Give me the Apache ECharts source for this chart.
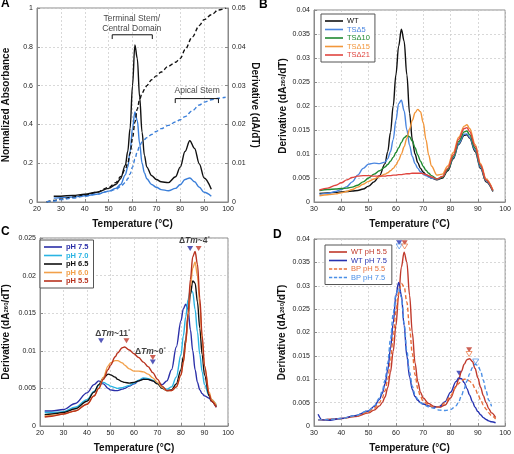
<!DOCTYPE html>
<html><head><meta charset="utf-8">
<script src="https://cdn.jsdelivr.net/npm/echarts@6/dist/echarts.min.js"></script>
<style>html,body{margin:0;padding:0;background:#fff}#c{width:514px;height:454px}</style>
</head><body><div id="c"></div>
<script>
// ---------- Panel A ----------
const aDerivT = [27,30,35,40,45,50,53,55,57,58,59,60,61,62,63,64,65,66,68,70,72,75,78,80,82,84,86,88,90,93];
const aBlackDeriv = [0.0015,0.0015,0.0017,0.0020,0.0025,0.0035,0.0045,0.0060,0.0095,0.0130,0.0190,0.0300,0.0405,0.0370,0.0270,0.0180,0.0120,0.0090,0.0068,0.0058,0.0052,0.0050,0.0065,0.0090,0.0130,0.0158,0.0138,0.0098,0.0062,0.0033];
const aBlueDeriv = [0.0010,0.0011,0.0013,0.0016,0.0020,0.0028,0.0035,0.0045,0.0070,0.0090,0.0130,0.0190,0.0232,0.0210,0.0150,0.0100,0.0075,0.0060,0.0045,0.0038,0.0032,0.0029,0.0035,0.0045,0.0058,0.0062,0.0052,0.0038,0.0025,0.0015];
const aAbsT = [24,27,30,35,40,45,50,53,55,57,58,59,60,61,62,63,64,65,66,68,70,72,75,78,80,82,85,88,90,93,96,99];
const aBlackAbs = [0,0.008,0.015,0.025,0.035,0.050,0.075,0.100,0.130,0.170,0.200,0.250,0.330,0.410,0.480,0.530,0.560,0.580,0.600,0.630,0.650,0.670,0.700,0.720,0.740,0.785,0.850,0.910,0.940,0.965,0.990,1.000];
const aBlueAbs = [0,0.005,0.012,0.020,0.030,0.040,0.055,0.065,0.080,0.100,0.120,0.145,0.180,0.220,0.260,0.290,0.310,0.322,0.332,0.348,0.364,0.378,0.395,0.412,0.424,0.440,0.470,0.500,0.515,0.527,0.535,0.540];
const aBracketTerminal = [[51.5,0.84],[51.5,0.862],[68.3,0.862],[68.3,0.84]];
const aBracketApical = [[77.9,0.51],[77.9,0.533],[96.0,0.533],[96.0,0.51]];

// ---------- Panel B ----------
const bT = [32,35,38,40,42,44,46,48,50,52,54,56,57,58,59,60,61,62,63,64,65,66,67,68,69,70,71,72,73,75,77,79,81,83,85,86,87,89,91,93,95.5];
const bWT = [0.0018,0.0019,0.0020,0.0021,0.0022,0.0023,0.0024,0.0027,0.0033,0.0042,0.0055,0.0080,0.0105,0.0145,0.0200,0.0265,0.0325,0.0360,0.0335,0.0265,0.0185,0.0130,0.0100,0.0082,0.0070,0.0062,0.0057,0.0053,0.0050,0.0046,0.0050,0.0065,0.0090,0.0120,0.0139,0.0140,0.0133,0.0105,0.0070,0.0042,0.0022];
const bTS5 = [0.0016,0.0018,0.0022,0.0026,0.0032,0.0042,0.0056,0.0070,0.0079,0.0081,0.0080,0.0083,0.0090,0.0105,0.0130,0.0170,0.0205,0.0212,0.0190,0.0150,0.0118,0.0095,0.0080,0.0070,0.0063,0.0058,0.0055,0.0052,0.0050,0.0047,0.0052,0.0068,0.0092,0.0122,0.0141,0.0142,0.0135,0.0108,0.0072,0.0044,0.0023];
const bTS10 = [0.0024,0.0026,0.0027,0.0028,0.0029,0.0031,0.0035,0.0042,0.0050,0.0058,0.0065,0.0073,0.0078,0.0085,0.0093,0.0103,0.0113,0.0124,0.0134,0.0138,0.0136,0.0127,0.0113,0.0098,0.0085,0.0074,0.0066,0.0060,0.0055,0.0048,0.0052,0.0068,0.0094,0.0126,0.0146,0.0148,0.0140,0.0112,0.0075,0.0046,0.0024];
const bTS15 = [0.0013,0.0015,0.0017,0.0019,0.0022,0.0026,0.0031,0.0037,0.0043,0.0048,0.0053,0.0058,0.0061,0.0065,0.0070,0.0077,0.0087,0.0100,0.0115,0.0133,0.0152,0.0170,0.0186,0.0193,0.0188,0.0165,0.0130,0.0098,0.0075,0.0056,0.0058,0.0075,0.0103,0.0135,0.0158,0.0161,0.0153,0.0120,0.0080,0.0048,0.0025];
const bTS21 = [0.0025,0.0029,0.0035,0.0040,0.0046,0.0051,0.0054,0.0055,0.0055,0.0054,0.0054,0.0054,0.0055,0.0055,0.0056,0.0056,0.0057,0.0057,0.0058,0.0059,0.0059,0.0060,0.0060,0.0060,0.0060,0.0059,0.0057,0.0055,0.0052,0.0048,0.0053,0.0070,0.0098,0.0131,0.0153,0.0155,0.0147,0.0116,0.0077,0.0046,0.0024];

// ---------- Panel C ----------
const cT = [22,25,30,35,40,43,45,47,49,50,52,53,55,56,58,60,62,64,66,68,70,72,74,76,78,80,81,82,83,84,85,86,87,88,89,90,92,93,95];
const cPH75 = [0.0020,0.0020,0.0022,0.0030,0.0044,0.0055,0.0060,0.0056,0.0050,0.0048,0.0047,0.0047,0.0049,0.0050,0.0053,0.0056,0.0060,0.0063,0.0062,0.0060,0.0057,0.0055,0.0060,0.0075,0.0105,0.0140,0.0156,0.0162,0.0155,0.0128,0.0100,0.0075,0.0058,0.0048,0.0043,0.0040,0.0037,0.0033,0.0025];
const cPH70 = [0.0018,0.0018,0.0019,0.0025,0.0035,0.0046,0.0054,0.0058,0.0055,0.0053,0.0051,0.0050,0.0051,0.0052,0.0054,0.0057,0.0061,0.0064,0.0063,0.0061,0.0057,0.0051,0.0049,0.0052,0.0065,0.0095,0.0120,0.0145,0.0168,0.0181,0.0178,0.0155,0.0125,0.0095,0.0072,0.0055,0.0040,0.0035,0.0028];
const cPH65 = [0.0015,0.0016,0.0018,0.0023,0.0033,0.0045,0.0055,0.0064,0.0069,0.0068,0.0065,0.0062,0.0059,0.0058,0.0057,0.0058,0.0060,0.0062,0.0062,0.0060,0.0056,0.0050,0.0047,0.0048,0.0056,0.0075,0.0092,0.0115,0.0145,0.0175,0.0193,0.0190,0.0165,0.0130,0.0095,0.0068,0.0040,0.0033,0.0026];
const cPH60 = [0.0013,0.0014,0.0016,0.0020,0.0029,0.0040,0.0050,0.0065,0.0080,0.0084,0.0087,0.0087,0.0084,0.0081,0.0076,0.0073,0.0073,0.0072,0.0069,0.0064,0.0058,0.0051,0.0047,0.0047,0.0052,0.0068,0.0085,0.0110,0.0145,0.0185,0.0210,0.0218,0.0200,0.0160,0.0115,0.0080,0.0045,0.0035,0.0028];
const cPH55 = [0.0012,0.0013,0.0016,0.0020,0.0029,0.0040,0.0050,0.0062,0.0075,0.0081,0.0092,0.0097,0.0104,0.0105,0.0101,0.0096,0.0091,0.0085,0.0079,0.0071,0.0062,0.0053,0.0047,0.0047,0.0052,0.0068,0.0085,0.0110,0.0150,0.0195,0.0225,0.0232,0.0215,0.0170,0.0120,0.0080,0.0042,0.0033,0.0025];
const cMarkBlue = [[46,0.01135],[68,0.0085],[83.9,0.0236]];
const cMarkRed = [[56.8,0.01135],[68,0.0091],[87.5,0.0236]];
const cNotes = [[51,0.0123,'11'],[67,0.0099,'0'],[85.7,0.0247,'4']];

// ---------- Panel D ----------
const dT = [31.5,33,35,40,45,50,52,54,55,56,57,58,59,60,61,62,63,64,65,66,67,68,69,70,72,74,76,78,80,82,83,84,85,86,87,88,89,90,91,92,93,94,95,96.5];
const dWT55 = [0.0013,0.0013,0.0014,0.0016,0.0020,0.0028,0.0034,0.0043,0.0050,0.0062,0.0082,0.0115,0.0160,0.0215,0.0280,0.0340,0.0372,0.0350,0.0280,0.0200,0.0135,0.0095,0.0072,0.0060,0.0048,0.0042,0.0040,0.0045,0.0060,0.0085,0.0100,0.0117,0.0132,0.0142,0.0144,0.0138,0.0123,0.0103,0.0083,0.0065,0.0050,0.0037,0.0028,0.0018];
const dWT75 = [0.0025,0.0013,0.0012,0.0016,0.0022,0.0032,0.0042,0.0057,0.0070,0.0090,0.0120,0.0165,0.0220,0.0280,0.0307,0.0280,0.0215,0.0150,0.0105,0.0078,0.0063,0.0055,0.0050,0.0047,0.0043,0.0040,0.0042,0.0052,0.0072,0.0095,0.0103,0.0101,0.0093,0.0080,0.0066,0.0052,0.0040,0.0031,0.0024,0.0018,0.0014,0.0011,0.0009,0.0007];
const dBP55 = [0.0013,0.0013,0.0014,0.0016,0.0021,0.0030,0.0038,0.0050,0.0060,0.0075,0.0100,0.0140,0.0190,0.0245,0.0285,0.0305,0.0298,0.0265,0.0210,0.0155,0.0110,0.0080,0.0063,0.0053,0.0044,0.0040,0.0041,0.0050,0.0065,0.0083,0.0091,0.0097,0.0100,0.0100,0.0096,0.0090,0.0080,0.0068,0.0056,0.0045,0.0036,0.0028,0.0022,0.0015];
const dBP75 = [0.0013,0.0013,0.0014,0.0016,0.0022,0.0033,0.0043,0.0060,0.0075,0.0098,0.0135,0.0185,0.0240,0.0282,0.0295,0.0275,0.0220,0.0160,0.0115,0.0085,0.0067,0.0057,0.0050,0.0046,0.0041,0.0038,0.0034,0.0033,0.0035,0.0043,0.0052,0.0065,0.0080,0.0096,0.0112,0.0125,0.0132,0.0130,0.0118,0.0098,0.0075,0.0055,0.0042,null];
const dMarkBlueFilled = [[61.2,0.0392],[83.2,0.0113]];
const dMarkRedFilled = [[63.2,0.0392],[86.8,0.0163]];
const dMarkBlueOpen = [[61.2,0.0384],[89.2,0.0138]];
const dMarkOrangeOpen = [[63.2,0.0384],[86.8,0.0154]];

// ---------- helpers ----------
const FONT = '"Liberation Sans", Arial, Helvetica, sans-serif';
function zip(t, v) { return t.map((x, i) => [x, v[i]]); }
const grids = [
  {left:36, top:8, width:192, height:194},
  {left:314, top:10, width:195, height:192},
  {left:36, top:238, width:192, height:192},
  {left:314, top:239, width:194, height:190}
].map(g => Object.assign({show:true, borderColor:'#8a8a8a', borderWidth:1, backgroundColor:'#fff'}, g));

const split = {show:true, lineStyle:{color:'#cfcfcf', type:[2,2], width:0.8}};
const nameStyle = {fontSize:10, fontWeight:'bold', color:'#111', fontFamily:FONT,
  rich:{s:{fontSize:6, fontWeight:'bold', color:'#111', fontFamily:FONT}}};
function xAx(gi, min, max) {
  return {type:'value', gridIndex:gi, min:min, max:max, interval:10,
    axisLine:{show:true, lineStyle:{color:'#8a8a8a'}},
    axisTick:{show:true, inside:true, length:3, lineStyle:{color:'#8a8a8a'}},
    axisLabel:{fontSize:7, color:'#222', fontFamily:FONT, margin:4},
    splitLine:split, name:'Temperature (°C)', nameLocation:'middle', nameGap:17, nameTextStyle:nameStyle};
}
function yAx(gi, max, interval, name, gap, pos, showSplit) {
  return {type:'value', gridIndex:gi, min:0, max:max, interval:interval, position:pos || 'left',
    axisLine:{show:true, onZero:false, lineStyle:{color:'#8a8a8a'}},
    axisTick:{show:true, inside:true, length:3, lineStyle:{color:'#8a8a8a'}},
    axisLabel:{fontSize:7, color:'#222', fontFamily:FONT, margin:4},
    splitLine: showSplit === false ? {show:false} : split,
    name:name, nameLocation:'middle', nameGap:gap, nameRotate: pos === 'right' ? -90 : 90, nameTextStyle:nameStyle};
}
function line(name, xi, yi, data, color, dashed, width) {
  return {name:name, type:'line', xAxisIndex:xi, yAxisIndex:yi, data:data, symbol:'none', smooth:0.35,
    smoothMonotone:'x', connectNulls:false, silent:true,
    lineStyle:{color:color, width:width || 1.4, type: dashed ? [4,2.5] : 'solid'}, itemStyle:{color:color}};
}
function tri(name, xi, yi, data, color, open) {
  return {name:name, type:'scatter', xAxisIndex:xi, yAxisIndex:yi, data:data, symbol:'triangle', symbolRotate:180,
    symbolSize:[6,5], silent:true,
    itemStyle: open ? {color:'#fff', borderColor:color, borderWidth:0.9} : {color:color}};
}
function bracket(name, data) {
  return {name:name, type:'line', xAxisIndex:0, yAxisIndex:0, data:data, symbol:'none', silent:true,
    lineStyle:{color:'#111', width:1}};
}
function textPts(name, xi, yi, data, fmt, rich, weight) {
  return {name:name, type:'scatter', xAxisIndex:xi, yAxisIndex:yi, data:data, symbolSize:1, silent:true,
    itemStyle:{color:'rgba(0,0,0,0)'},
    label:{show:true, position:'inside', formatter:fmt, fontSize:8.5, fontWeight:weight||'normal', color:'#111', fontFamily:FONT, lineHeight:10, rich:rich||{}}};
}

const C = {
  black:'#111111', blueA:'#3b7fd9',
  wt:'#111111', ts5:'#4a86e0', ts10:'#1f8a30', ts15:'#f2963a', ts21:'#e0453f',
  p75:'#2b2fa8', p70:'#2ab4e3', p65:'#111111', p60:'#f2a04a', p55:'#b8321e',
  dWT55:'#c0392b', dWT75:'#2632b0', dBP55:'#e8703a', dBP75:'#4a8fe6'
};

const series = [
  // A
  line('A black deriv', 0, 1, zip(aDerivT, aBlackDeriv), C.black, false),
  line('A blue deriv', 0, 1, zip(aDerivT, aBlueDeriv), C.blueA, false),
  line('A black abs', 0, 0, zip(aAbsT, aBlackAbs), C.black, true),
  line('A blue abs', 0, 0, zip(aAbsT, aBlueAbs), C.blueA, true),
  bracket('A br1', aBracketTerminal),
  bracket('A br2', aBracketApical),
  textPts('A txt', 0, 0, [[59.7, 0.92, 'Terminal Stem/\nCentral Domain'], [87.1, 0.572, 'Apical Stem']],
    p => p.data[2]),
  // B
  line('WT', 1, 2, zip(bT, bWT), C.wt),
  line('TSΔ5', 1, 2, zip(bT, bTS5), C.ts5),
  line('TSΔ10', 1, 2, zip(bT, bTS10), C.ts10),
  line('TSΔ15', 1, 2, zip(bT, bTS15), C.ts15),
  line('TSΔ21', 1, 2, zip(bT, bTS21), C.ts21),
  // C
  line('pH 7.5', 2, 3, zip(cT, cPH75), C.p75),
  line('pH 7.0', 2, 3, zip(cT, cPH70), C.p70),
  line('pH 6.5', 2, 3, zip(cT, cPH65), C.p65),
  line('pH 6.0', 2, 3, zip(cT, cPH60), C.p60),
  line('pH 5.5', 2, 3, zip(cT, cPH55), C.p55),
  tri('C tri blue', 2, 3, cMarkBlue, C.p75),
  tri('C tri red', 2, 3, cMarkRed, '#c0392b'),
  textPts('C txt', 2, 3, cNotes, p => '{a|Δ}{i|Tm}{a|~' + p.data[2] + '}{u|°}',
    {a:{fontSize:8.5, fontWeight:'bold', color:'#111', fontFamily:FONT},
     i:{fontSize:8.5, fontWeight:'bold', fontStyle:'italic', color:'#111', fontFamily:FONT},
     u:{fontSize:6, fontWeight:'bold', color:'#111', fontFamily:FONT, verticalAlign:'top'}}, 'bold'),
  // D
  line('WT pH 5.5', 3, 4, zip(dT, dWT55), C.dWT55),
  line('WT pH 7.5', 3, 4, zip(dT, dWT75), C.dWT75),
  line('BP pH 5.5', 3, 4, zip(dT, dBP55), C.dBP55, true),
  line('BP pH 7.5', 3, 4, zip(dT, dBP75), C.dBP75, true),
  tri('D tri bf', 3, 4, dMarkBlueFilled, C.dWT75),
  tri('D tri rf', 3, 4, dMarkRedFilled, C.dWT55),
  tri('D tri bo', 3, 4, dMarkBlueOpen, C.dBP75, true),
  tri('D tri oo', 3, 4, dMarkOrangeOpen, C.dBP55, true)
];

const SOLID_ICON = 'rect';
const DASH_ICON = 'path://M0,0H4V1H0Z M6,0H10V1H6Z M12,0H16V1H12Z M18,0H22V1H18Z';
function legend(left, top, names, colors, dashed, bold, lh, pad) {
  return {left:left, top:top, orient:'vertical', itemWidth:18, itemHeight:1.6, itemGap:0.5,
    symbolKeepAspect:false,
    padding:pad, borderColor:'#555', borderWidth:1, backgroundColor:'#fff', selectedMode:false,
    textStyle:{fontSize:7.5, lineHeight:lh, fontFamily:FONT, fontWeight: bold ? 'bold' : 'normal', padding:[0,0,0,-1]},
    itemStyle:{borderWidth:0},
    data: names.map((n, i) => ({name:n, icon: dashed[i] ? DASH_ICON : SOLID_ICON,
      itemStyle:{color:colors[i], borderWidth:0}, textStyle:{color:colors[i], lineHeight:lh}}))};
}

const option = {
  animation:false,
  textStyle:{fontFamily:FONT},
  grid:grids,
  xAxis:[xAx(0,20,100), xAx(1,30,100), xAx(2,20,100), xAx(3,30,100)],
  yAxis:[
    yAx(0, 1, 0.2, 'Normalized Absorbance', 26),
    yAx(0, 0.05, 0.01, 'Derivative (dA/dT)', 21, 'right', false),
    yAx(1, 0.04, 0.005, 'Derivative (dA{s|260}/dT)', 25),
    yAx(2, 0.025, 0.005, 'Derivative (dA{s|260}/dT)', 29),
    yAx(3, 0.04, 0.005, 'Derivative (dA{s|260}/dT)', 27)
  ],
  legend:[
    legend(321, 14, ['WT','TSΔ5','TSΔ10','TSΔ15','TSΔ21'], [C.wt,C.ts5,C.ts10,C.ts15,C.ts21], [0,0,0,0,0], false, 7.2, [3,5,3,4]),
    legend(40, 240, ['pH 7.5','pH 7.0','pH 6.5','pH 6.0','pH 5.5'], [C.p75,C.p70,C.p65,C.p60,C.p55], [0,0,0,0,0], true, 7.6, [3,5,3,4]),
    legend(325, 245, ['WT pH 5.5','WT pH 7.5','BP pH 5.5','BP pH 7.5'], [C.dWT55,C.dWT75,C.dBP55,C.dBP75], [0,0,1,1], false, 7.6, [3,5,3,4])
  ],
  graphic:[
    {type:'text', left:1, top:-2, style:{text:'A', font:'bold 12px ' + FONT, fill:'#000'}},
    {type:'text', left:259, top:-1, style:{text:'B', font:'bold 12px ' + FONT, fill:'#000'}},
    {type:'text', left:1, top:226, style:{text:'C', font:'bold 12px ' + FONT, fill:'#000'}},
    {type:'text', left:273, top:229, style:{text:'D', font:'bold 12px ' + FONT, fill:'#000'}}
  ],
  series:series
};
const chart = echarts.init(document.getElementById('c'), null, {renderer:'canvas'});
chart.setOption(option);
</script></body></html>
